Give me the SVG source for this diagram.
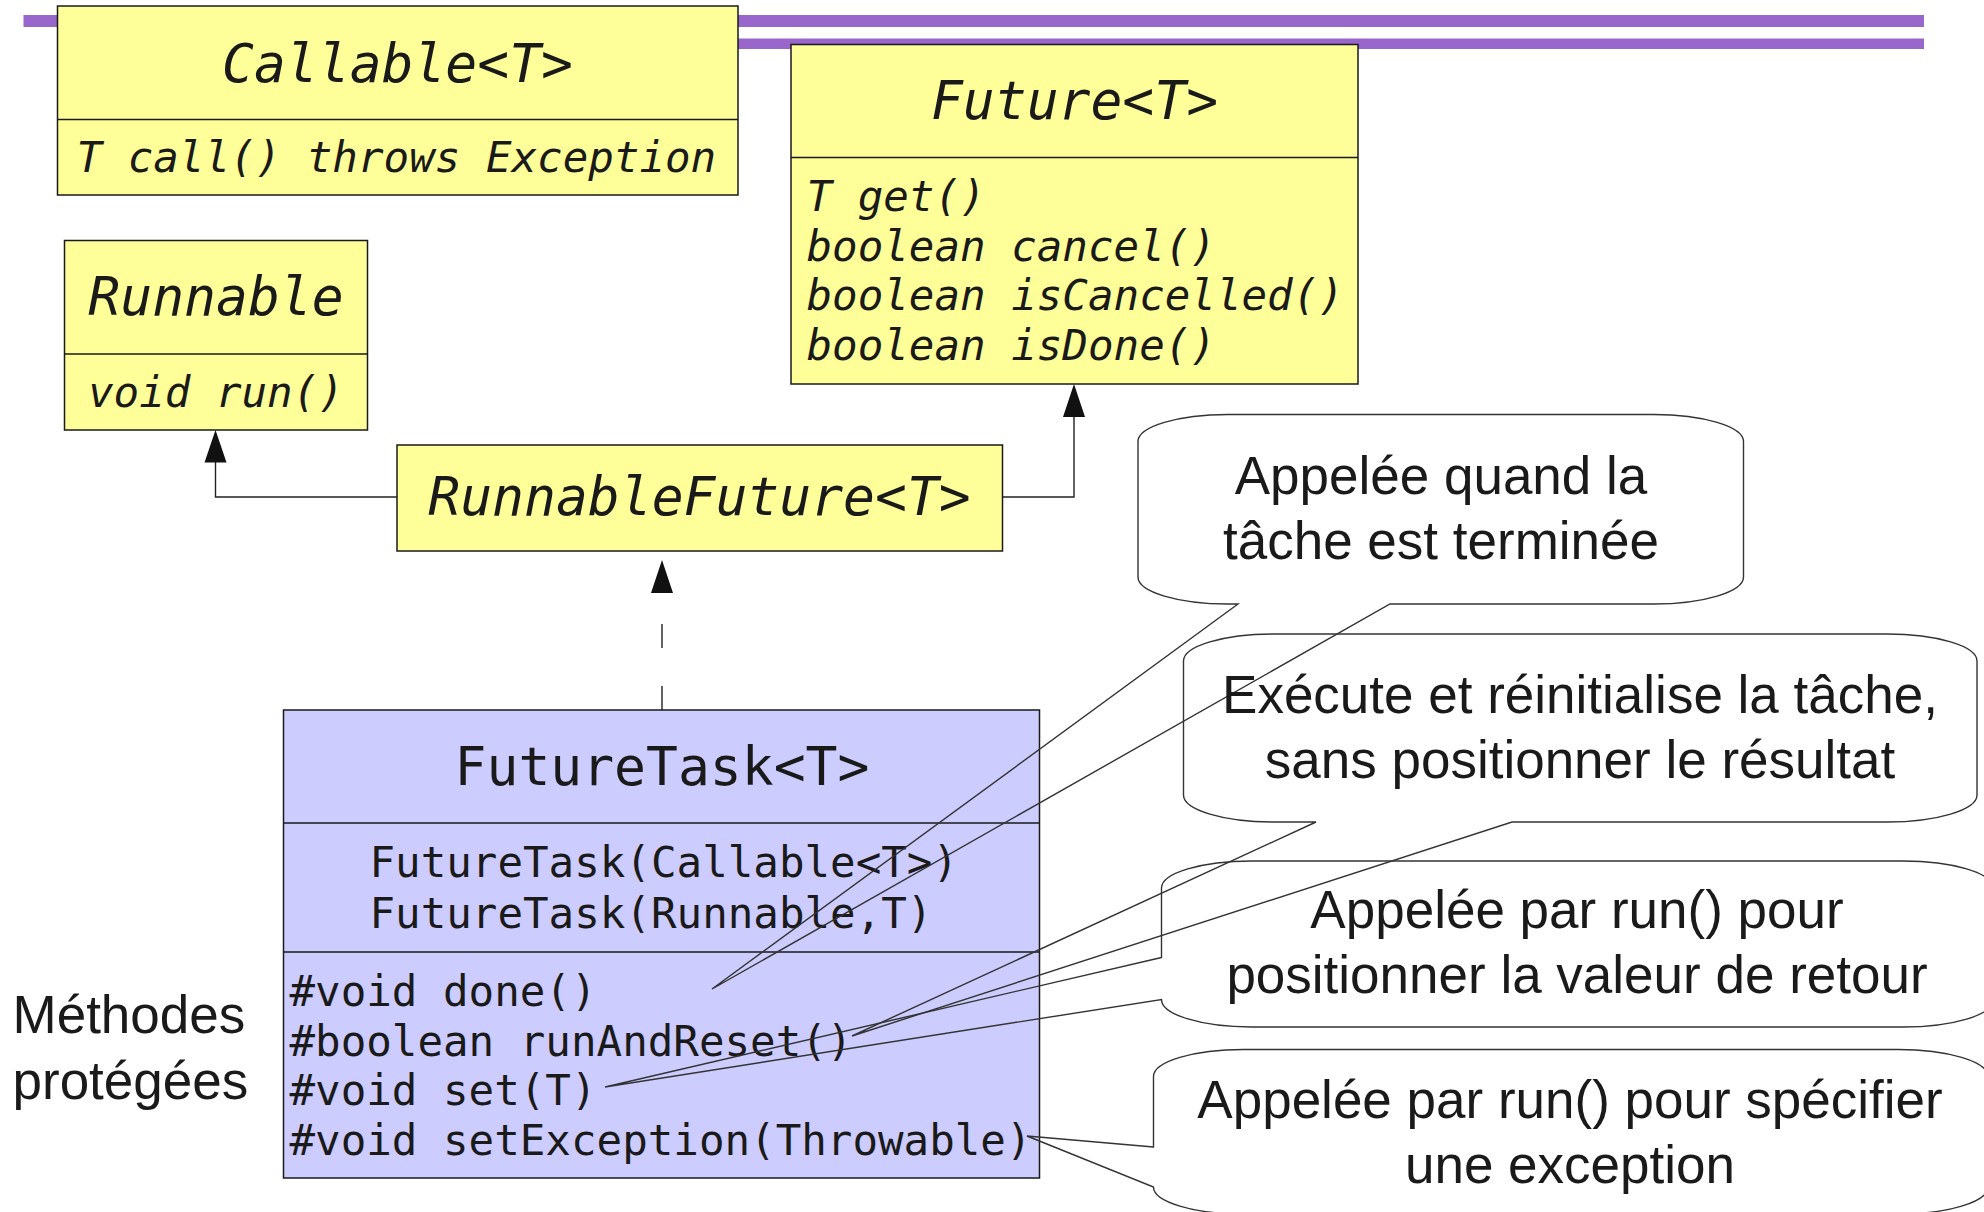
<svg xmlns="http://www.w3.org/2000/svg" width="1984" height="1212" viewBox="0 0 1984 1212">
<defs>
<style>
.box{stroke:#1a1a1a;stroke-width:1.5}
.yel{fill:#ffff99}
.blu{fill:#ccccff}
.div{stroke:#1a1a1a;stroke-width:1.5;fill:none}
.mono{font-family:"DejaVu Sans Mono","Liberation Mono",monospace;fill:#1a1a1a}
.it{font-style:italic}
.title{font-size:53px}
.mem{font-size:42.5px}
.sans{font-family:"Liberation Sans",Arial,sans-serif;font-size:53px;fill:#1a1a1a}
.conn{stroke:#222;stroke-width:1.4;fill:none}
.head{fill:#111;stroke:none}
.callout{fill:none;stroke:#333;stroke-width:1.4;stroke-linejoin:miter}
</style>
</defs>
<rect width="1984" height="1212" fill="#ffffff"/>
<g id="decor">
<rect x="23.5" y="15" width="1900.5" height="12" fill="#9966cc"/>
<rect x="700" y="38.5" width="1224" height="10.5" fill="#9966cc"/>
</g>
<g id="connectors">
<polyline class="conn" points="397,497 215.5,497 215.5,462"/>
<polygon class="head" points="215.5,430 204.5,462.5 226.5,462.5"/>
<polyline class="conn" points="1002.5,497 1074,497 1074,416"/>
<polygon class="head" points="1074,384 1063,417 1085,417"/>
<line class="conn" x1="662" y1="710" x2="662" y2="593" stroke-dasharray="24 38"/>
<polygon class="head" points="662,560 651,593 673,593"/>
</g>
<g id="callable">
<rect class="box yel" x="57.5" y="6" width="680.5" height="189"/>
<line class="div" x1="57.5" y1="119.5" x2="738" y2="119.5"/>
<text class="mono it title" x="397.5" y="82" text-anchor="middle">Callable&lt;T&gt;</text>
<text class="mono it mem" x="76.5" y="172">T call() throws Exception</text>
</g>
<g id="runnable">
<rect class="box yel" x="64.5" y="240.5" width="303" height="189.5"/>
<line class="div" x1="64.5" y1="354" x2="367.5" y2="354"/>
<text class="mono it title" x="216" y="315" text-anchor="middle">Runnable</text>
<text class="mono it mem" x="88" y="406.5">void run()</text>
</g>
<g id="future">
<rect class="box yel" x="791" y="44.5" width="567" height="339.5"/>
<line class="div" x1="791" y1="157.5" x2="1358" y2="157.5"/>
<text class="mono it title" x="1074.5" y="118.5" text-anchor="middle">Future&lt;T&gt;</text>
<text class="mono it mem" x="806.5" y="211">T get()</text>
<text class="mono it mem" x="806.5" y="260.5">boolean cancel()</text>
<text class="mono it mem" x="806.5" y="310">boolean isCancelled()</text>
<text class="mono it mem" x="806.5" y="359.5">boolean isDone()</text>
</g>
<g id="runnablefuture">
<rect class="box yel" x="397" y="445" width="605.5" height="106"/>
<text class="mono it title" x="699.5" y="515" text-anchor="middle">RunnableFuture&lt;T&gt;</text>
</g>
<g id="futuretask">
<rect class="box blu" x="283.5" y="710" width="756" height="468"/>
<line class="div" x1="283.5" y1="823" x2="1039.5" y2="823"/>
<line class="div" x1="283.5" y1="952" x2="1039.5" y2="952"/>
<text class="mono title" x="662" y="785" text-anchor="middle">FutureTask&lt;T&gt;</text>
<text class="mono mem" x="369.5" y="877">FutureTask(Callable&lt;T&gt;)</text>
<text class="mono mem" x="369.5" y="928">FutureTask(Runnable,T)</text>
<text class="mono mem" x="289.5" y="1006">#void done()</text>
<text class="mono mem" x="289.5" y="1055.5">#boolean runAndReset()</text>
<text class="mono mem" x="289.5" y="1105">#void set(T)</text>
<text class="mono mem" x="289.5" y="1154.5">#void setException(Throwable)</text>
</g>
<g id="label-protegees">
<text class="sans" x="12.5" y="1033">Méthodes</text>
<text class="sans" x="12.5" y="1099">protégées</text>
</g>
<g id="callout-done">
<path class="callout" d="M1238,604 L712,989 L1390,604 L1653.5,604 A90 27 0 0 0 1743.5,577 L1743.5,441.5 A90 27 0 0 0 1653.5,414.5 L1228,414.5 A90 27 0 0 0 1138,441.5 L1138,577 A90 27 0 0 0 1228,604 Z"/>
<text class="sans" x="1441" y="494" text-anchor="middle">Appelée quand la</text>
<text class="sans" x="1441" y="559" text-anchor="middle">tâche est terminée</text>
</g>
<g id="callout-runandreset">
<path class="callout" d="M1316,822 L852,1036 L1512,822 L1887,822 A90 27 0 0 0 1977,795 L1977,661 A90 27 0 0 0 1887,634 L1273.5,634 A90 27 0 0 0 1183.5,661 L1183.5,795 A90 27 0 0 0 1273.5,822 Z"/>
<text class="sans" x="1580" y="713" text-anchor="middle">Exécute et réinitialise la tâche,</text>
<text class="sans" x="1580" y="778" text-anchor="middle">sans positionner le résultat</text>
</g>
<g id="callout-set">
<path class="callout" d="M1161.5,957.5 L605,1087 L1161.5,999.5 A90 27.5 0 0 0 1251.5,1027 L1903,1027 A90 27 0 0 0 1993,1000 L1993,888 A90 27 0 0 0 1903,861 L1251.5,861 A90 27 0 0 0 1161.5,888 Z"/>
<text class="sans" x="1577" y="928" text-anchor="middle">Appelée par run() pour</text>
<text class="sans" x="1577" y="993" text-anchor="middle">positionner la valeur de retour</text>
</g>
<g id="callout-setexception">
<path class="callout" d="M1153.5,1147 L1027,1136 L1153.5,1187 A90 27 0 0 0 1243.5,1214 L1898,1214 A90 27 0 0 0 1988,1187 L1988,1076.5 A90 27 0 0 0 1898,1049.5 L1243.5,1049.5 A90 27 0 0 0 1153.5,1076.5 Z"/>
<text class="sans" x="1570" y="1118" text-anchor="middle">Appelée par run() pour spécifier</text>
<text class="sans" x="1570" y="1183" text-anchor="middle">une exception</text>
</g>
</svg>
